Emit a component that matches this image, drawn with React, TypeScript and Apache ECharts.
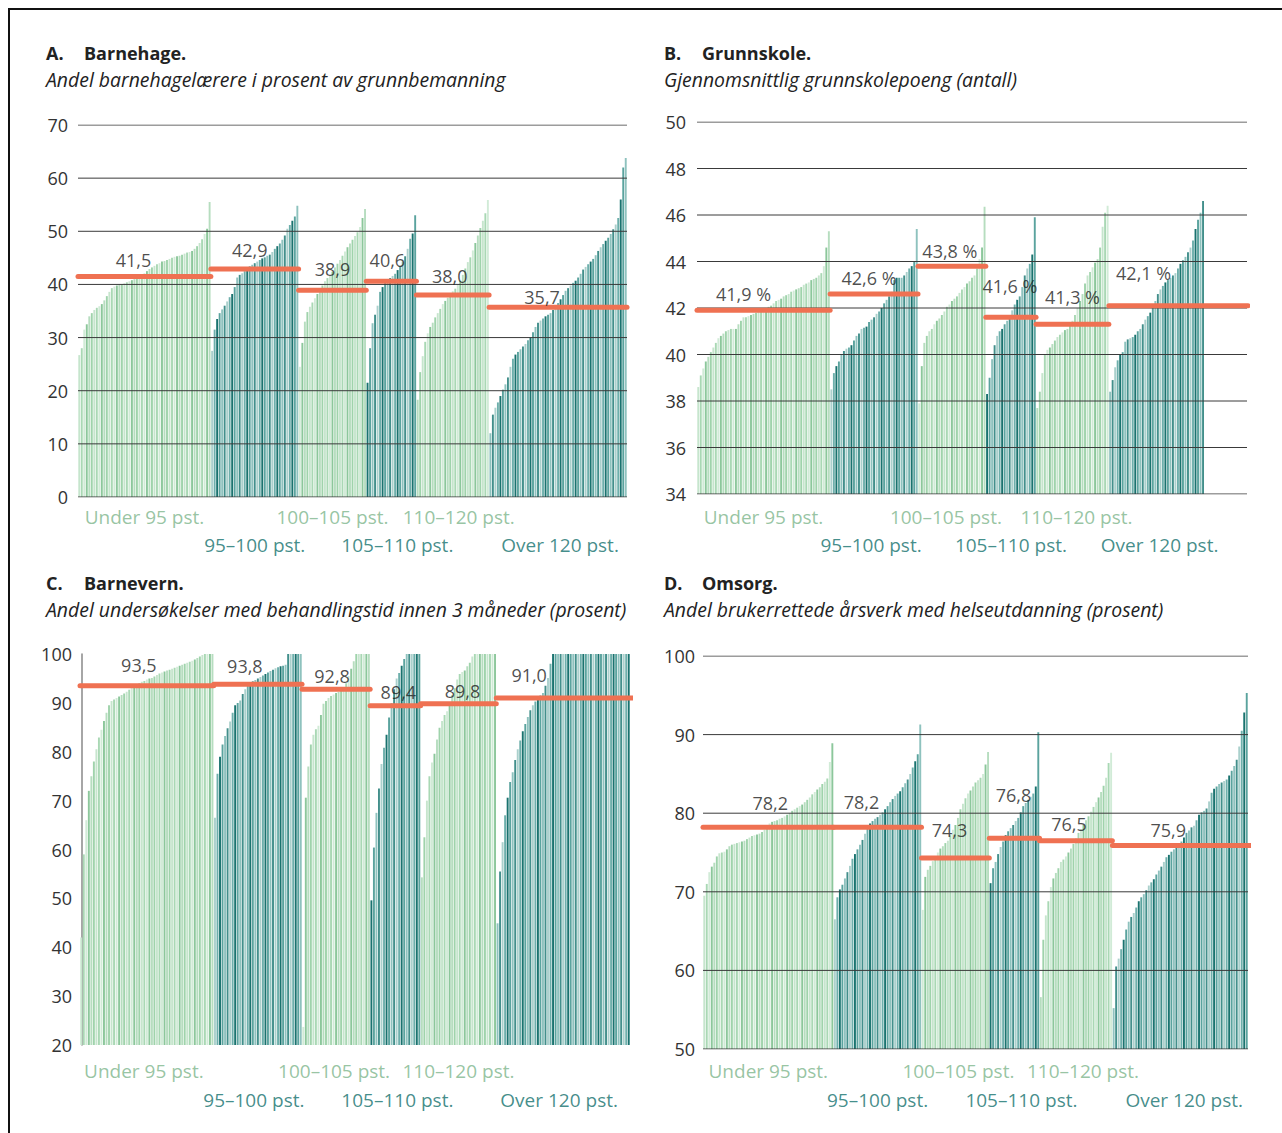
import React, { useEffect, useRef } from "react";
import * as echarts from "echarts";

// ---------- categories ----------
const groupNames = ["Under 95 pst.", "95–100 pst.", "100–105 pst.", "105–110 pst.", "110–120 pst.", "Over 120 pst."];

// ---------- A. Barnehage ----------
const barnehageUnder95 = [26.7, 28, 31.5, 32.5, 34, 34.6, 35.2, 35.6, 35.9, 36.3, 37, 37.8, 38.6, 39.3, 39.6, 39.8, 40, 40, 40.2, 40.4, 40.6, 40.8, 41, 41.3, 41.6, 41.8, 42.1, 42.5, 42.9, 43.2, 43.5, 43.8, 44, 44.3, 44.4, 44.6, 44.8, 45, 45.2, 45.3, 45.4, 45.6, 45.8, 46, 46.1, 46.3, 46.7, 47.2, 47.8, 48.5, 49.5, 50.5, 55.5];
const barnehage95to100 = [27.5, 31.5, 33.5, 34.6, 35.3, 36, 36.8, 37.6, 38.2, 39.5, 41.3, 41.8, 42.1, 42.5, 43, 43.4, 43.7, 44, 44.3, 44.6, 44.9, 45.1, 45.4, 45.6, 46.1, 46.7, 47.2, 47.7, 48.4, 49.2, 50.5, 51.2, 52, 52.8, 54.8];
const barnehage100to105 = [24.5, 29, 33, 34.8, 35.8, 36.6, 37.4, 38.2, 39.2, 39.8, 40.6, 41.2, 41.6, 42.4, 43.2, 43.9, 44.6, 45.4, 46.2, 47, 47.7, 48.4, 49.1, 49.8, 50.8, 52.5, 54.2];
const barnehage105to110 = [21.5, 28, 32.7, 34.3, 36, 38.6, 39.5, 40.3, 40.8, 41.2, 41.6, 42, 42.7, 43.4, 44.3, 45.3, 46.7, 48.6, 49.6, 53];
const barnehage110to120 = [18.3, 23.5, 26.5, 29.2, 30.8, 32, 32.8, 33.8, 34.6, 35.4, 36.3, 36.9, 37.5, 38.1, 38.7, 39.2, 40, 40.7, 41.8, 43, 44.2, 45.1, 46.4, 47.8, 49.2, 50.6, 52, 53.4, 55.9];
const barnehageOver120 = [12, 15.5, 16.8, 17.8, 19, 20.2, 21.2, 22.5, 24.5, 26, 26.8, 27.3, 27.8, 28.3, 28.8, 29.5, 30, 31, 32, 32.8, 33.2, 33.6, 34, 34.3, 34.6, 35.2, 35.8, 36.5, 37.2, 38, 38.8, 39.3, 39.8, 40.3, 40.7, 41.3, 42, 42.8, 43.3, 43.8, 44.3, 44.8, 45.5, 46.3, 47, 47.6, 48.2, 48.8, 49.5, 50.4, 51.3, 52.5, 56, 62, 63.8];
const barnehageMeans = [41.5, 42.9, 38.9, 40.6, 38.0, 35.7];
const barnehageTicks = [0, 10, 20, 30, 40, 50, 60, 70];

// ---------- B. Grunnskole ----------
const grunnskoleUnder95 = [38.6, 39.1, 39.4, 39.7, 39.9, 40.1, 40.3, 40.5, 40.7, 40.8, 40.9, 41, 41.05, 41.1, 41.1, 41.1, 41.3, 41.45, 41.6, 41.6, 41.65, 41.7, 41.75, 41.8, 41.85, 41.9, 41.95, 42, 42.05, 42.1, 42.2, 42.3, 42.35, 42.4, 42.5, 42.55, 42.6, 42.7, 42.75, 42.8, 42.85, 42.9, 43, 43.05, 43.1, 43.2, 43.25, 43.3, 43.4, 43.5, 43.8, 44.6, 45.3];
const grunnskole95to100 = [38.5, 39.2, 39.5, 39.7, 40, 40.15, 40.25, 40.3, 40.4, 40.6, 40.8, 40.9, 41.1, 41.15, 41.2, 41.4, 41.5, 41.6, 41.75, 41.85, 42, 42.2, 42.35, 42.5, 42.7, 43.2, 43.3, 43.3, 43.3, 43.4, 43.55, 43.7, 43.8, 44, 45.4];
const grunnskole100to105 = [37.9, 39.5, 40.5, 40.8, 41, 41.1, 41.3, 41.45, 41.55, 41.7, 41.85, 42.05, 42.15, 42.3, 42.4, 42.5, 42.65, 42.8, 42.9, 43.05, 43.15, 43.3, 43.4, 43.7, 44.1, 44.6, 46.35];
const grunnskole105to110 = [38.3, 39, 39.8, 40.4, 40.8, 41, 41.1, 41.3, 41.45, 41.6, 41.9, 42.15, 42.35, 42.5, 42.9, 43.4, 43.7, 43.9, 44.3, 45.9];
const grunnskole110to120 = [37.7, 38.4, 39.2, 40, 40.2, 40.3, 40.45, 40.6, 40.75, 40.85, 40.95, 41.05, 41.1, 41.25, 41.45, 41.7, 42, 42.3, 42.6, 43.05, 43.4, 43.55, 43.75, 43.95, 44.1, 44.6, 45.5, 46.1, 46.4];
const grunnskoleOver120 = [38.4, 38.9, 39.45, 39.75, 40, 40.1, 40.55, 40.65, 40.7, 40.75, 40.85, 41, 41.1, 41.3, 41.5, 41.65, 41.8, 42, 42.3, 42.6, 42.8, 42.95, 43.1, 43.2, 43.3, 43.4, 43.5, 43.7, 43.9, 44.05, 44.2, 44.4, 44.6, 44.9, 45.4, 45.8, 46.1, 46.6];
const grunnskoleMeans = [41.9, 42.6, 43.8, 41.6, 41.3, 42.1];
const grunnskoleTicks = [34, 36, 38, 40, 42, 44, 46, 48, 50];

// ---------- C. Barnevern ----------
const barnevernUnder95 = [42, 59, 66, 72, 75, 78, 80.5, 82.9, 84.5, 86.3, 88, 89.5, 90.4, 90.7, 91, 91.3, 91.6, 91.9, 92.3, 92.7, 93.1, 93.5, 93.8, 94, 94.3, 94.5, 94.8, 95, 95.1, 95.4, 95.7, 96, 96.2, 96.4, 96.6, 96.8, 97, 97.2, 97.4, 97.6, 97.8, 98, 98.2, 98.4, 98.6, 98.9, 99.2, 99.5, 99.8, 100, 100, 100, 100];
const barnevern95to100 = [66.5, 75.5, 79, 81.5, 83.2, 84.8, 86.2, 88, 89.5, 90, 90.5, 91.8, 92.8, 93.6, 94.1, 94.4, 94.7, 95, 95.3, 95.6, 95.9, 96.2, 96.5, 96.8, 97.1, 97.3, 97.5, 97.6, 97.8, 100, 100, 100, 100, 100, 100];
const barnevern100to105 = [23.7, 70.6, 77, 81.5, 83.5, 84.6, 85.3, 87.5, 89.8, 90.4, 91, 91.4, 91.7, 92, 92.2, 92.6, 93.1, 94, 95.5, 97, 98.5, 100, 100, 100, 100, 100, 100];
const barnevern105to110 = [49.6, 60.4, 67.5, 72.5, 77.5, 80.8, 83.5, 87, 90, 92.8, 95, 96.1, 97.6, 99, 100, 100, 100, 100, 100, 100];
const barnevern110to120 = [54.3, 62.5, 70, 75, 77.8, 79.6, 82.5, 84.9, 86.3, 87.5, 88.3, 90, 91.6, 93, 94.8, 95.9, 96.3, 96.6, 97.5, 98.2, 99.5, 100, 100, 100, 100, 100, 100, 100, 100, 100];
const barnevernOver120 = [44.9, 55.5, 61.5, 67, 70.6, 73.8, 75.8, 78.3, 80.5, 82.3, 84.2, 85.7, 87.1, 88.5, 89.5, 90.3, 91, 91.5, 92, 93.5, 95.1, 98, 100, 100, 100, 100, 100, 100, 100, 100, 100, 100, 100, 100, 100, 100, 100, 100, 100, 100, 100, 100, 100, 100, 100, 100, 100, 100, 100, 100, 100, 100, 100];
const barnevernMeans = [93.5, 93.8, 92.8, 89.4, 89.8, 91.0];
const barnevernTicks = [20, 30, 40, 50, 60, 70, 80, 90, 100];

// ---------- D. Omsorg ----------
const omsorgUnder95 = [69.5, 71, 72.5, 73.2, 73.7, 74.5, 74.9, 75, 75.1, 75.4, 75.8, 76, 76.1, 76.2, 76.3, 76.4, 76.5, 76.7, 76.9, 77.1, 77.2, 77.3, 77.4, 77.6, 77.9, 78.3, 78.7, 78.9, 79, 79.1, 79.3, 79.4, 79.6, 79.8, 80, 80.3, 80.5, 80.7, 80.9, 81.1, 81.4, 81.7, 82, 82.4, 82.7, 83, 83.3, 83.7, 84, 84.4, 86.5, 88.9];
const omsorg95to100 = [66.5, 69.3, 70.3, 70.9, 71.7, 72.5, 73.3, 74.2, 74.8, 75.4, 76, 76.6, 77.4, 78.3, 78.7, 79, 79.3, 79.5, 79.8, 80.1, 80.5, 80.9, 81.4, 81.8, 82.2, 82.5, 82.8, 83.3, 83.8, 84.3, 85, 85.8, 86.6, 87.5, 91.3];
const omsorg100to105 = [67.7, 71.9, 72.8, 73.3, 73.9, 74.5, 75, 75.5, 75.8, 76.2, 76.5, 77.2, 77.9, 78.5, 79.4, 80.5, 81.2, 81.9, 82.5, 82.9, 83.4, 83.9, 84.2, 84.5, 85, 86.2, 87.8];
const omsorg105to110 = [71.1, 73, 73.8, 74.8, 75.7, 76.4, 77.2, 77.7, 78.1, 78.5, 79, 79.4, 80.1, 80.9, 81.3, 81.7, 82.1, 82.5, 83.4, 90.3];
const omsorg110to120 = [56.6, 63.9, 67, 68.8, 70.6, 71.7, 72.4, 73, 73.8, 74.1, 74.5, 75, 75.5, 76.1, 76.8, 77.5, 78, 78.5, 79.1, 79.6, 80.2, 80.8, 81.4, 82, 82.7, 83.5, 84.5, 86.4, 87.7];
const omsorgOver120 = [55.2, 60.5, 61.5, 62.7, 63.9, 65.2, 66.2, 66.8, 67.3, 68, 68.8, 69.3, 69.7, 70.2, 70.8, 71.2, 71.6, 72.2, 72.7, 73.2, 73.8, 74.4, 74.7, 75.1, 75.4, 75.7, 76.1, 76.4, 76.9, 77.5, 77.8, 78.2, 78.4, 79.1, 79.8, 80.1, 80.3, 80.6, 81.5, 82.6, 83.1, 83.4, 83.7, 83.9, 84.1, 84.3, 84.8, 85.4, 86, 86.8, 88.5, 90.5, 92.8, 95.3];
const omsorgMeans = [78.2, 78.2, 74.3, 76.8, 76.5, 75.9];
const omsorgTicks = [50, 60, 70, 80, 90, 100];

// ---------- styles ----------
const FONT = '"Open Sans", "Noto Sans", sans-serif';
const LIGHT = ["#c6e5cd", "#9fd3ab", "#b6ddbf", "#8cc79b", "#d1ebd7", "#a9d8b4"];
const DARK = ["#1a736f", "#6dafab", "#aad0cc", "#428f8b", "#8ec2be", "#5aa39e"];
const RED = "#ef7152";
const LABEL_LIGHT = "#7db58b";
const LABEL_DARK = "#12706c";

const panels = [
  {
    letter: "A.", title: "Barnehage.", subtitle: "Andel barnehagelærere i prosent av grunnbemanning",
    titleX: 46, nameX: 84, titleY: 53, subY: 79,
    groups: [barnehageUnder95, barnehage95to100, barnehage100to105, barnehage105to110, barnehage110to120, barnehageOver120],
    means: barnehageMeans, ticks: barnehageTicks, suffix: "",
    grid: { left: 78, top: 125, width: 549, height: 372 },
    emptySlots: 0, overhang: 0, gridLines: true, axisLine: false, labelMargin: 10,
    meanDx: [-11, -5, 0, -4, -3, -16], meanDy: [16, 19, 21, 21, 19, 10],
    groupDx: [0, 0, 0, 6, 6, 2], rows: [20, 48],
  },
  {
    letter: "B.", title: "Grunnskole.", subtitle: "Gjennomsnittlig grunnskolepoeng (antall)",
    titleX: 664, nameX: 702, titleY: 53, subY: 79,
    groups: [grunnskoleUnder95, grunnskole95to100, grunnskole100to105, grunnskole105to110, grunnskole110to120, grunnskoleOver120],
    means: grunnskoleMeans, ticks: grunnskoleTicks, suffix: " %",
    grid: { left: 697, top: 122, width: 550, height: 372 },
    emptySlots: 17, overhang: 0.4, gridLines: true, axisLine: false, labelMargin: 11,
    meanDx: [-20, -5, -2, -1, 0, -13], meanDy: [16, 16, 15, 31, 27, 33],
    groupDx: [0, -3, -6, 0, 4, 3], rows: [23, 51],
  },
  {
    letter: "C.", title: "Barnevern.", subtitle: "Andel undersøkelser med behandlingstid innen 3 måneder (prosent)",
    titleX: 46, nameX: 84, titleY: 583, subY: 609,
    groups: [barnevernUnder95, barnevern95to100, barnevern100to105, barnevern105to110, barnevern110to120, barnevernOver120],
    means: barnevernMeans, ticks: barnevernTicks, suffix: "",
    grid: { left: 80, top: 654, width: 550, height: 391 },
    emptySlots: 0, overhang: 2, gridLines: false, axisLine: true, labelMargin: 8,
    meanDx: [-8, -13, -4, 3, 4, -34], meanDy: [21, 18, 13, 14, 13, 23],
    groupDx: [-3, -4, -2, 2, 0, -4], rows: [26, 55],
  },
  {
    letter: "D.", title: "Omsorg.", subtitle: "Andel brukerrettede årsverk med helseutdanning (prosent)",
    titleX: 664, nameX: 702, titleY: 583, subY: 609,
    groups: [omsorgUnder95, omsorg95to100, omsorg100to105, omsorg105to110, omsorg110to120, omsorgOver120],
    means: omsorgMeans, ticks: omsorgTicks, suffix: "",
    grid: { left: 703, top: 656, width: 545, height: 393 },
    emptySlots: 0, overhang: 1, gridLines: true, axisLine: false, labelMargin: 8,
    meanDx: [2, -16, -6, -1, -7, -12], meanDy: [24, 25, 28, 43, 17, 15],
    groupDx: [0, 0, 3, 7, 7, 4], rows: [22, 51],
  },
];

function fmt(v: number) {
  return v.toFixed(1).replace(".", ",");
}

function buildOption() {
  const grid: any[] = [];
  const xAxis: any[] = [];
  const yAxis: any[] = [];
  const series: any[] = [];
  const graphic: any[] = [
    {
      type: "rect", z: 100, silent: true,
      shape: { x: 9, y: 9, width: 1400, height: 1400 },
      style: { fill: "none", stroke: "#111", lineWidth: 2 },
    },
  ];

  panels.forEach((p, k) => {
    const starts: number[] = [];
    let n = 0;
    p.groups.forEach((g) => { starts.push(n); n += g.length; });
    const N = n + p.emptySlots;
    const cats = Array.from({ length: N }, (_, i) => String(i));
    const min = p.ticks[0];
    const max = p.ticks[p.ticks.length - 1];
    const interval = p.ticks[1] - p.ticks[0];

    const barData: any[] = [];
    p.groups.forEach((g, gi) => {
      const pal = gi % 2 ? DARK : LIGHT;
      g.forEach((v, i) => {
        barData.push({ value: v, itemStyle: { color: pal[(i * 5 + gi * 2) % 6] } });
      });
    });
    for (let i = 0; i < p.emptySlots; i++) barData.push("-");

    grid.push({ ...p.grid, containLabel: false });
    xAxis.push({
      type: "category", gridIndex: k, data: cats, show: false,
      boundaryGap: true,
    });
    xAxis.push({ type: "value", gridIndex: k, min: -0.5, max: N - 0.5, show: false });
    yAxis.push({
      type: "value", gridIndex: k, min, max, interval,
      axisLabel: { fontSize: 18, color: "#333", fontFamily: FONT, margin: p.labelMargin },
      splitLine: { show: false },
      axisTick: { show: false },
      axisLine: { show: p.axisLine, lineStyle: { color: "#888", width: 1.5 } },
    });

    series.push({
      type: "bar", xAxisIndex: 2 * k, yAxisIndex: k, data: barData,
      barCategoryGap: "24%", z: 2, silent: true,
    });

    if (p.gridLines) {
      p.ticks.forEach((t) => {
        series.push({
          type: "line", xAxisIndex: 2 * k + 1, yAxisIndex: k, z: 3, silent: true,
          symbol: "none", data: [[-0.5, t], [N - 0.5, t]],
          lineStyle: { color: "#3a3a3a", width: 1 },
        });
      });
    }

    p.groups.forEach((g, gi) => {
      const s = starts[gi] - 0.5;
      const e = gi === p.groups.length - 1 ? N - 0.5 + p.overhang : starts[gi] + g.length - 0.5;
      series.push({
        type: "line", xAxisIndex: 2 * k + 1, yAxisIndex: k, z: 4, silent: true, clip: false,
        symbol: "none", data: [[s, p.means[gi]], [e, p.means[gi]]],
        lineStyle: { color: RED, width: 5, cap: "round" },
      });
    });

    series.push({
      type: "scatter", xAxisIndex: 2 * k + 1, yAxisIndex: k, z: 5, silent: true, clip: false,
      symbolSize: 1, itemStyle: { color: "rgba(0,0,0,0)" },
      data: p.groups.map((g, gi) => ({
        value: [starts[gi] + (g.length - 1) / 2, p.means[gi]],
        label: { offset: [p.meanDx[gi], -p.meanDy[gi]] },
      })),
      label: {
        show: true, position: "inside", fontSize: 18, color: "#1e1e1e", fontFamily: FONT,
        formatter: (pr: any) => fmt(pr.value[1]) + p.suffix,
      },
    });

    series.push({
      type: "scatter", xAxisIndex: 2 * k + 1, yAxisIndex: k, z: 5, silent: true, clip: false,
      symbolSize: 1, itemStyle: { color: "rgba(0,0,0,0)" },
      data: p.groups.map((g, gi) => ({
        name: groupNames[gi],
        value: [starts[gi] + (g.length - 1) / 2, min],
        label: { offset: [p.groupDx[gi], p.rows[gi % 2]], color: gi % 2 ? LABEL_DARK : LABEL_LIGHT },
      })),
      label: {
        show: true, position: "inside", fontSize: 19, fontFamily: FONT,
        formatter: "{b}",
      },
    });

    graphic.push({
      type: "text", x: p.titleX, y: p.titleY, silent: true,
      style: { text: p.letter, font: `bold 18px ${FONT}`, fill: "#222", textVerticalAlign: "middle" },
    });
    graphic.push({
      type: "text", x: p.nameX, y: p.titleY, silent: true,
      style: { text: p.title, font: `bold 18px ${FONT}`, fill: "#222", textVerticalAlign: "middle" },
    });
    graphic.push({
      type: "text", x: p.titleX, y: p.subY, silent: true,
      style: { text: p.subtitle, font: `italic 19.4px ${FONT}`, fill: "#222", textVerticalAlign: "middle" },
    });
  });

  return {
    animation: false,
    backgroundColor: "#fff",
    textStyle: { fontFamily: FONT },
    grid, xAxis, yAxis, series, graphic,
  };
}

export default function App() {
  const ref = useRef<HTMLDivElement>(null);
  useEffect(() => {
    if (!ref.current) return;
    const chart = echarts.init(ref.current, undefined, { renderer: "svg" });
    chart.setOption(buildOption() as any);
    return () => chart.dispose();
  }, []);
  return (
    <div
      ref={ref}
      style={{ position: "absolute", left: 0, top: 0, width: 1282, height: 1133, background: "#fff" }}
    />
  );
}
